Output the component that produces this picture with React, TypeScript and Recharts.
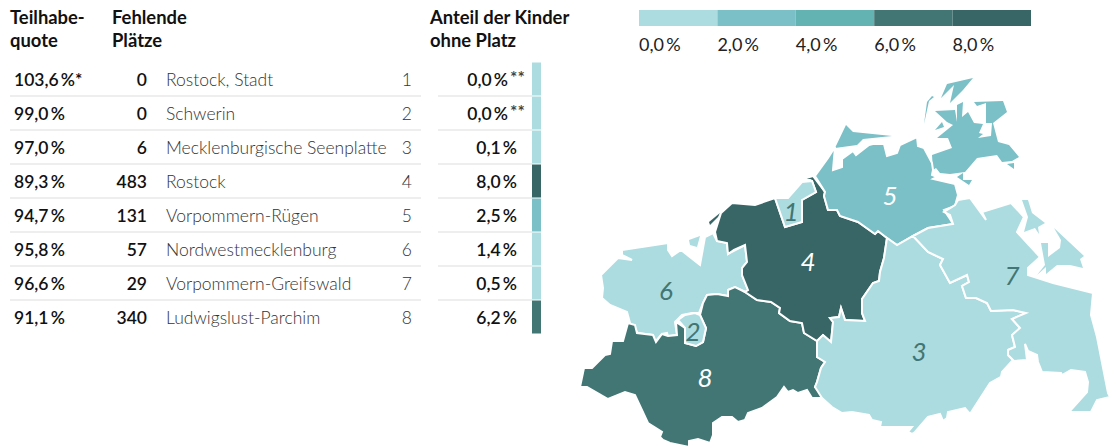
import React from "react";
import { ScatterChart, Scatter, XAxis, YAxis, BarChart, Bar, Cell } from "recharts";

const C0 = "#acdce0", C2 = "#7bbfc7", C4 = "#62b3b2", C6 = "#417674", C8 = "#386666";
const INK = "#111";

const quoten = ["103,6\u2009%", "99,0\u2009%", "97,0\u2009%", "89,3\u2009%", "94,7\u2009%", "95,8\u2009%", "96,6\u2009%", "91,1\u2009%"];
const quoteMarks = ["*", "", "", "", "", "", "", ""];
const fehlend = [0, 0, 6, 483, 131, 57, 29, 340];
const kreise = ["Rostock, Stadt", "Schwerin", "Mecklenburgische Seenplatte", "Rostock", "Vorpommern-Rügen", "Nordwestmecklenburg", "Vorpommern-Greifswald", "Ludwigslust-Parchim"];
const anteil = [0.0, 0.0, 0.1, 8.0, 2.5, 1.4, 0.5, 6.2];
const anteilMarks = ["**", "**", "", "", "", "", "", ""];
const legendTicks = [0, 2, 4, 6, 8];
const legendColors = [C0, C2, C4, C6, C8];

type P = [number, number];
const r1: P[] = [[775,198],[788,198],[802,182],[812,181],[816,192],[802,200],[802,222],[785,227]];
const r2: P[] = [[678,320],[685,315],[695,313],[700,315],[706,328],[703,342],[696,346],[685,343],[685,328]];
const r3: P[] = [[817,341],[823,335],[831,342],[833,322],[830,318],[839,317],[841,308],[845,320],[865,321],[862,313],[862,299],[873,283],[879,281],[880,272],[884,258],[887,238],[897,245],[913,236],[928,252],[943,259],[940,265],[950,283],[967,275],[969,282],[962,286],[966,298],[976,298],[987,303],[991,311],[1013,310],[1026,313],[1012,319],[1020,328],[1012,335],[1015,347],[1008,350],[1008,355],[1014,361],[1012,361],[1002,372],[1001,377],[990,383],[970,414],[965,408],[948,412],[947,418],[943,421],[940,414],[928,417],[915,432],[912,434],[908,432],[912,427],[880,427],[881,422],[872,420],[869,415],[852,412],[842,413],[832,407],[822,398],[815,387],[817,382],[821,368],[825,362],[817,357]];
const r4: P[] = [[721,213],[732,203],[755,205],[775,198],[785,227],[802,222],[802,200],[816,192],[812,181],[806,178],[813,176],[825,192],[824,196],[828,210],[837,210],[840,216],[858,222],[875,234],[878,231],[887,238],[884,258],[880,272],[879,281],[873,283],[862,299],[862,313],[865,321],[845,320],[841,308],[839,317],[830,318],[833,322],[831,342],[823,335],[817,341],[804,333],[802,323],[790,321],[779,313],[780,308],[771,302],[757,300],[745,292],[748,290],[742,275],[742,268],[747,262],[745,245],[734,250],[728,254],[727,243],[717,241],[715,232]];
const r4b: P[] = [[709,222],[720,213],[718,217],[710,225]];
const r5: P[] = [[815,176],[828,158],[835,147],[833,170],[842,167],[842,159],[853,151],[856,155],[869,145],[873,144],[884,144],[887,156],[897,153],[900,145],[917,137],[918,146],[924,148],[932,163],[933,170],[932,175],[937,177],[933,179],[955,184],[958,195],[955,206],[944,210],[950,219],[953,224],[928,228],[913,236],[897,245],[887,238],[878,231],[875,234],[858,222],[840,216],[837,210],[828,210],[824,196],[825,192]];
const r5b: P[] = [[835,148],[846,125],[853,132],[892,136],[863,139],[857,145]];
const r5c: P[] = [[935,111],[955,110],[957,122],[957,105],[963,102],[962,117],[968,112],[974,123],[983,124],[979,133],[983,134],[978,138],[991,136],[992,123],[986,123],[986,103],[977,106],[974,102],[1003,101],[1007,112],[993,123],[998,142],[1009,145],[1019,157],[1012,161],[1002,162],[997,155],[977,158],[965,172],[950,174],[940,173],[936,168],[933,170],[932,155],[952,148],[948,138],[937,138],[953,125],[947,122]];
const r5d: P[] = [[947,84],[973,78],[963,90],[950,103],[954,85],[941,98]];
const r5e: P[] = [[932,96],[934,97],[929,101],[924,124],[927,102]];
const r5f: P[] = [[1007,164],[1014,163],[1014,169]];
const r5g: P[] = [[957,177],[963,173],[963,180],[972,180],[969,185]];
const r5h: P[] = [[942,122],[944,127],[935,130]];
const r6: P[] = [[622,250],[668,243],[668,250],[672,256],[681,250],[700,265],[705,237],[713,233],[717,241],[727,243],[728,254],[745,245],[747,262],[742,268],[742,275],[748,290],[748,293],[735,287],[728,290],[728,296],[717,294],[707,295],[703,303],[699,313],[692,313],[682,315],[675,322],[677,335],[668,336],[667,333],[662,334],[655,342],[653,335],[638,333],[630,323],[627,312],[610,305],[602,298],[603,288],[601,275],[618,258],[632,260],[622,255]];
const r6b: P[] = [[689,240],[700,236],[697,247],[690,245]];
const r7: P[] = [[913,236],[928,228],[953,224],[950,215],[944,212],[955,205],[958,200],[970,198],[986,220],[982,212],[1011,203],[1024,217],[1017,232],[1040,257],[1028,268],[1028,275],[1053,283],[1093,293],[1091,315],[1097,337],[1108,393],[1110,397],[1097,400],[1091,412],[1069,412],[1087,392],[1088,382],[1085,372],[1071,370],[1062,375],[1061,373],[1042,372],[1038,362],[1037,355],[1028,351],[1025,344],[1027,360],[1014,361],[1008,355],[1008,350],[1015,347],[1012,335],[1020,328],[1012,319],[1026,313],[1013,310],[991,311],[987,303],[976,298],[966,298],[962,286],[969,282],[967,275],[950,283],[940,265],[943,259],[928,252]];
const r7b: P[] = [[1022,200],[1028,200],[1032,213],[1045,223],[1038,227],[1039,234],[1035,228],[1024,232],[1028,217]];
const r7c: P[] = [[1041,243],[1048,243],[1048,257],[1060,248],[1061,240],[1054,228],[1084,256],[1080,259],[1083,268],[1070,265],[1057,265],[1046,274],[1046,267],[1037,275],[1045,265]];
const r8: P[] = [[628,323],[635,325],[637,333],[653,335],[656,342],[662,334],[668,336],[677,335],[676,322],[685,328],[685,343],[696,346],[703,342],[706,328],[700,315],[703,303],[707,295],[717,294],[728,296],[728,290],[735,287],[745,292],[757,300],[771,302],[780,308],[779,313],[790,321],[802,323],[804,333],[817,341],[817,357],[825,362],[821,368],[817,382],[815,387],[822,395],[823,398],[812,398],[807,390],[798,393],[793,390],[788,392],[784,387],[777,397],[762,408],[748,413],[745,420],[738,422],[732,417],[722,417],[713,423],[713,435],[710,443],[698,439],[689,441],[689,447],[670,443],[663,440],[660,437],[662,432],[648,423],[635,395],[625,392],[608,399],[587,387],[580,387],[584,368],[592,368],[605,355],[610,354],[612,341],[623,341]];

const mainland: { pts: P[]; fill: string }[] = [
  { pts: r6, fill: C0 },
  { pts: r8, fill: C6 },
  { pts: r4, fill: C8 },
  { pts: r5, fill: C2 },
  { pts: r3, fill: C0 }, { pts: r7, fill: C0 },
  { pts: r1, fill: C0 }, { pts: r2, fill: C0 },
];
const islands: { pts: P[]; fill: string }[] = [
  { pts: r6b, fill: C0 }, { pts: r4b, fill: C8 },
  { pts: r5b, fill: C2 }, { pts: r5c, fill: C2 }, { pts: r5d, fill: C2 },
  { pts: r5e, fill: C2 }, { pts: r5f, fill: C2 }, { pts: r5g, fill: C2 }, { pts: r5h, fill: C2 },
  { pts: r7b, fill: C0 }, { pts: r7c, fill: C0 },
];

const labelData = [
  { x: 791, y: 211, label: "1", color: C6 },
  { x: 693, y: 331, label: "2", color: C6 },
  { x: 919, y: 351, label: "3", color: C6 },
  { x: 808, y: 261, label: "4", color: "#fff" },
  { x: 890, y: 195, label: "5", color: "#fff" },
  { x: 666, y: 290, label: "6", color: C6 },
  { x: 1012, y: 275, label: "7", color: C6 },
  { x: 705, y: 377, label: "8", color: "#fff" },
];

const FONT = "Lato, sans-serif";
const colorFor = (v: number) => (v >= 8 ? C8 : v >= 6 ? C6 : v >= 4 ? C4 : v >= 2 ? C2 : C0);
const rowData = kreise.map((name, i) => ({ name, share: anteil[i] }));
const legendRow = [{ name: "Skala", a: 2, b: 2, c: 2, d: 2, e: 2 }];
const legendKeys = ["a", "b", "c", "d", "e"];

const polygonLine = (fill: string, stroke: string, width: number) => (props: any) => (
  <polygon
    points={(props.points || []).map((p: any) => `${p.x},${p.y}`).join(" ")}
    fill={fill}
    stroke={stroke}
    strokeWidth={width}
    strokeLinejoin="miter"
  />
);

const abs = (left: number, top: number, extra: React.CSSProperties = {}): React.CSSProperties => ({
  position: "absolute", left, top, fontFamily: FONT, whiteSpace: "nowrap", ...extra,
});
const HEAD: React.CSSProperties = { fontWeight: 700, fontSize: 18.4, lineHeight: "23px", color: INK };
const ROW_TOP = 62, ROW_H = 34;
const VALUE_W = 600;

export default function App() {
  return (
    <div style={{ position: "absolute", left: 0, top: 0, width: 1115, height: 448, background: "#fff", overflow: "hidden" }}>
      <div style={abs(10, 6, HEAD)}>Teilhabe-<br />quote</div>
      <div style={abs(112, 6, HEAD)}>Fehlende<br />Plätze</div>
      <div style={abs(430, 6, HEAD)}>Anteil der Kinder<br />ohne Platz</div>

      {kreise.map((name, i) => {
        const top = ROW_TOP + i * ROW_H;
        const textTop = top + 1;
        const base: React.CSSProperties = { lineHeight: `${ROW_H}px`, fontSize: 17.5, height: ROW_H };
        const marked = !!anteilMarks[i];
        return (
          <React.Fragment key={name}>
            <div style={abs(14, textTop, { ...base, fontWeight: VALUE_W, color: INK })}>
              {quoten[i]}{quoteMarks[i]}
            </div>
            <div style={abs(67, textTop, { ...base, width: 80, textAlign: "right", fontWeight: VALUE_W, color: INK })}>{fehlend[i]}</div>
            <div style={abs(166, textTop, { ...base, fontWeight: 300, color: "#333" })}>{name}</div>
            <div style={abs(372, textTop, { ...base, width: 40, textAlign: "right", fontWeight: 300, color: "#333" })}>{i + 1}</div>
            <div style={abs(marked ? 428 : 437, textTop, { ...base, width: 80, textAlign: "right", fontWeight: VALUE_W, color: INK })}>
              {anteil[i].toFixed(1).replace(".", ",")}{"\u2009%"}
            </div>
            {marked && (
              <div style={abs(510, textTop - 2, { ...base, fontWeight: 600, color: "#444" })}>{anteilMarks[i]}</div>
            )}
            {i < kreise.length - 1 && (
              <>
                <div style={{ position: "absolute", left: 10, top: top + ROW_H - 1, width: 411, height: 2, background: "#eee" }} />
                <div style={{ position: "absolute", left: 438, top: top + ROW_H - 1, width: 94, height: 2, background: "#eee" }} />
              </>
            )}
          </React.Fragment>
        );
      })}

      <div style={{ position: "absolute", left: 532, top: ROW_TOP - 0.5 }}>
        <BarChart width={9} height={ROW_H * 8} layout="vertical" data={rowData} margin={{ top: 0, right: 0, bottom: 0, left: 0 }} barCategoryGap={0.5}>
          <XAxis type="number" hide domain={[0, 1]} />
          <YAxis type="category" dataKey="name" hide />
          <Bar dataKey={() => 1} isAnimationActive={false}>
            {rowData.map((d) => <Cell key={d.name} fill={colorFor(d.share)} />)}
          </Bar>
        </BarChart>
      </div>

      <div style={{ position: "absolute", left: 639, top: 0 }}>
        <BarChart width={392} height={60} layout="vertical" data={legendRow} margin={{ top: 10, right: 0, bottom: 0, left: 0 }} barCategoryGap={0}>
          <XAxis
            type="number"
            domain={[0, 10]}
            ticks={legendTicks}
            height={34}
            axisLine={false}
            tickLine={false}
            interval={0}
            tickMargin={6}
            tickFormatter={(v: number) => `${v.toFixed(1).replace(".", ",")}\u2009%`}
            tick={{ textAnchor: "start", fontFamily: FONT, fontSize: 18, fontWeight: 400, fill: "#222" }}
          />
          <YAxis type="category" dataKey="name" hide />
          {legendKeys.map((k, i) => (
            <Bar key={k} dataKey={k} stackId="s" fill={legendColors[i]} isAnimationActive={false} />
          ))}
        </BarChart>
      </div>

      <div style={{ position: "absolute", left: 0, top: 0 }}>
        <ScatterChart width={1115} height={448} margin={{ top: 0, right: 0, bottom: 0, left: 0 }}>
          <XAxis type="number" dataKey="x" hide domain={[0, 1115]} />
          <YAxis type="number" dataKey="y" hide domain={[0, 448]} reversed />
          {islands.map((s, i) => (
            <Scatter
              key={"i" + i}
              data={s.pts.map(([x, y]) => ({ x, y }))}
              shape={() => <g />}
              line={polygonLine(s.fill, "none", 0)}
              isAnimationActive={false}
            />
          ))}
          {mainland.map((s, i) => (
            <Scatter
              key={"m" + i}
              data={s.pts.map(([x, y]) => ({ x, y }))}
              shape={() => <g />}
              line={polygonLine(s.fill, "#fff", 2)}
              isAnimationActive={false}
            />
          ))}
          <Scatter
            data={labelData}
            isAnimationActive={false}
            shape={(p: any) => (
              <text
                x={p.cx}
                y={p.cy}
                textAnchor="middle"
                dominantBaseline="central"
                fontFamily={FONT}
                fontStyle="italic"
                fontWeight={400}
                fontSize={26}
                fill={p.payload?.color ?? p.color}
              >
                {p.payload?.label ?? p.label}
              </text>
            )}
          />
        </ScatterChart>
      </div>
    </div>
  );
}
